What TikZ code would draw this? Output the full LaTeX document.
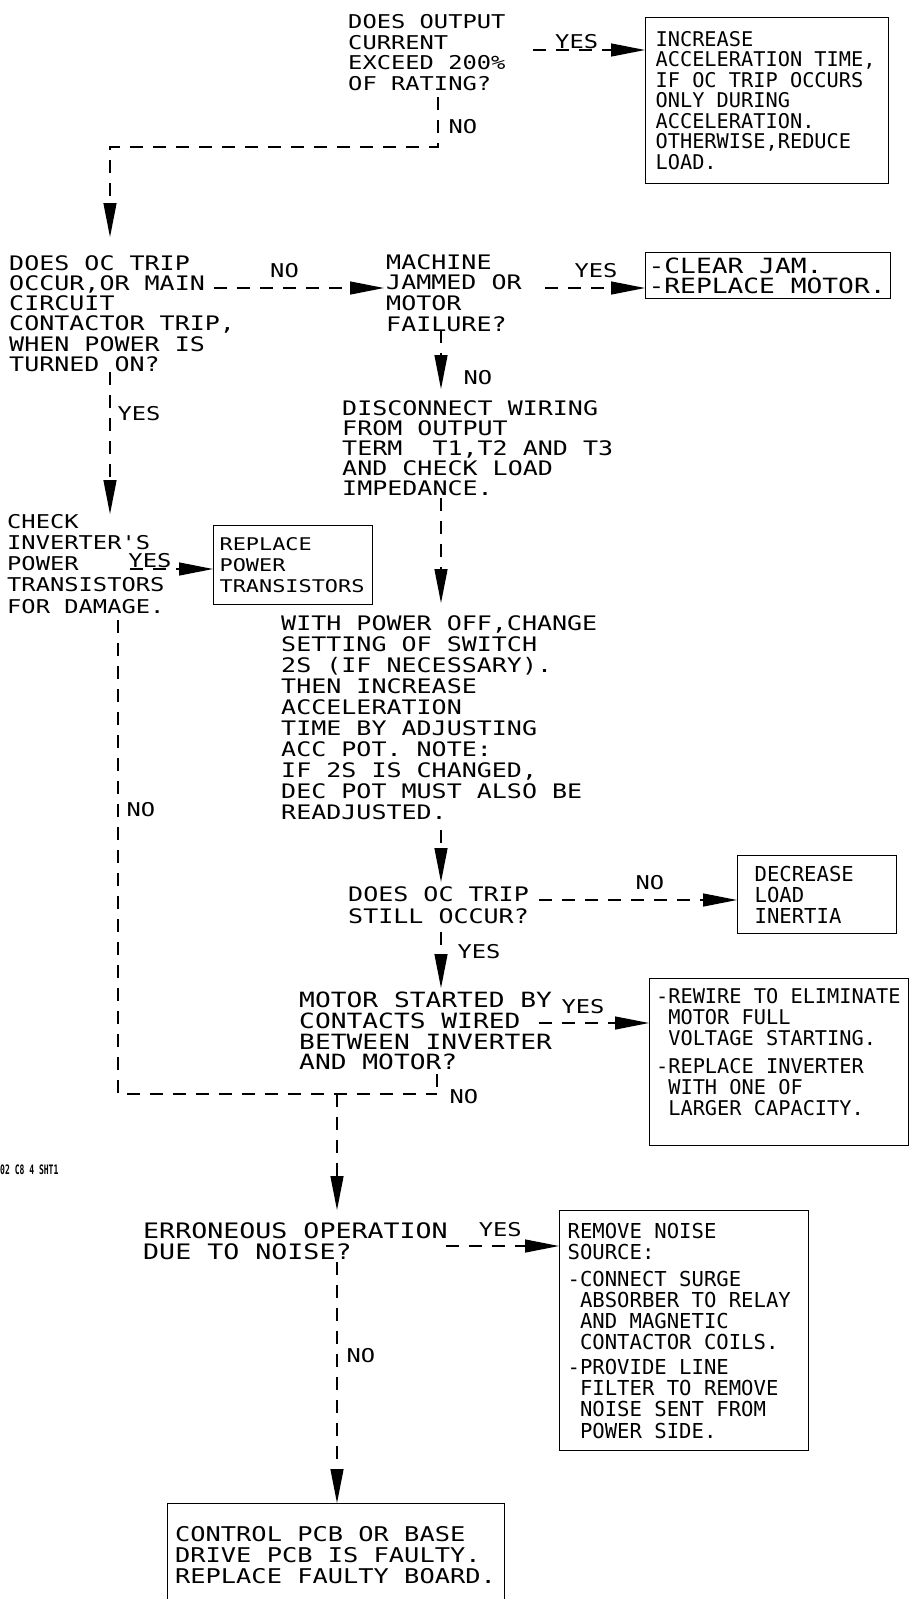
\documentclass[tikz,border=0pt]{standalone}
\usepackage{fontspec}
\usepackage{tikz}
\usetikzlibrary{arrows.meta, positioning, calc}
\newfontfamily\wfont[FakeStretch=1.25]{DejaVu Sans Mono}
\newfontfamily\nfont{DejaVu Sans Mono}
\newfontfamily\tfont[FakeStretch=0.62]{DejaVu Sans Mono}

\begin{document}
\begin{tikzpicture}[
  x=1pt, y=-1pt,
  ques/.style={font=\wfont\fontsize{20}{20.7}\selectfont, align=left,
               inner sep=0pt, anchor=north west},
  actbox/.style={draw, line width=1.2pt, align=left, inner sep=0pt,
                 anchor=north west, font=\nfont\fontsize{20.6}{21}\selectfont,
                 execute at begin node={\spaceskip=\fontdimen2\font\relax}},
  lab/.style={font=\wfont\fontsize{19}{19}\selectfont, inner sep=0pt},
  flow/.style={line width=1.3pt, dash pattern=on 13pt off 10pt,
               -{Triangle[length=34pt, width=13pt]}},
  link/.style={line width=1.3pt, dash pattern=on 13pt off 10pt}
]
\useasboundingbox (0,0) rectangle (909,1599);
\fill[white] (0,0) rectangle (909,1599);
\clip (0,0) rectangle (909,1599);

% questions and remedies
\node[ques, font=\wfont\fontsize{19}{20.7}\selectfont] (q1) at (348,14)
  {DOES OUTPUT\\CURRENT\\EXCEED 200\%\\OF RATING?};
\node[actbox, minimum width=243pt, minimum height=166pt, text width=223pt,
      font=\nfont\fontsize{20.3}{20.5}\selectfont] (b1) at (645,17)
  {INCREASE\\ACCELERATION TIME,\\IF OC TRIP OCCURS\\ONLY DURING\\ACCELERATION.\\OTHERWISE,REDUCE\\LOAD.};
\node[ques, font=\wfont\fontsize{20}{20.3}\selectfont] (q2) at (9,255)
  {DOES OC TRIP\\OCCUR,OR MAIN\\CIRCUIT\\CONTACTOR TRIP,\\WHEN POWER IS\\TURNED ON?};
\node[ques] (q3) at (386,254) {MACHINE\\JAMMED OR\\MOTOR\\FAILURE?};
\node[actbox, minimum width=245pt, minimum height=46pt, text width=239pt,
      font=\wfont\fontsize{21}{20}\selectfont] (b3) at (645,252)
  {-CLEAR JAM.\\-REPLACE MOTOR.};
\node[ques, font=\wfont\fontsize{20}{20}\selectfont] (dc) at (342,400)
  {DISCONNECT WIRING\\FROM OUTPUT\\TERM\ \ T1,T2 AND T3\\AND CHECK LOAD\\IMPEDANCE.};
\node[ques, font=\wfont\fontsize{19}{21.2}\selectfont] (q4) at (7,514)
  {CHECK\\INVERTER'S\\POWER\\TRANSISTORS\\FOR DAMAGE.};
\node[actbox, minimum width=159pt, minimum height=79pt, text width=147pt,
      font=\wfont\fontsize{17.5}{21}\selectfont] (b4) at (213,525)
  {REPLACE\\POWER\\TRANSISTORS};
\node[ques, font=\wfont\fontsize{20}{21.1}\selectfont] (wp) at (281,615)
  {WITH POWER OFF,CHANGE\\SETTING OF SWITCH\\2S (IF NECESSARY).\\THEN INCREASE\\ACCELERATION\\TIME BY ADJUSTING\\ACC POT. NOTE:\\IF 2S IS CHANGED,\\DEC POT MUST ALSO BE\\READJUSTED.};
\node[ques, font=\wfont\fontsize{20}{22}\selectfont] (q5) at (348,886)
  {DOES OC TRIP\\STILL OCCUR?};
\node[actbox, minimum width=159pt, minimum height=78pt, text width=125pt] (b5) at (737,855)
  {DECREASE\\LOAD\\INERTIA};
\node[ques, font=\wfont\fontsize{21}{20.7}\selectfont] (q6) at (299,992)
  {MOTOR STARTED BY\\CONTACTS WIRED\\BETWEEN INVERTER\\AND MOTOR?};
\node[actbox, minimum width=259pt, minimum height=167pt, text width=246pt,
      font=\nfont\fontsize{20.3}{21}\selectfont] (b6) at (649,978)
  {-REWIRE TO ELIMINATE\\\phantom{-}MOTOR FULL\\\phantom{-}VOLTAGE STARTING.\\[7pt]-REPLACE INVERTER\\\phantom{-}WITH ONE OF\\\phantom{-}LARGER CAPACITY.\\\mbox{}};
\node[ques, font=\wfont\fontsize{21.3}{21}\selectfont] (q7) at (143,1222)
  {ERRONEOUS OPERATION\\DUE TO NOISE?};
\node[actbox, minimum width=249pt, minimum height=240pt, text width=233pt,
      font=\nfont\fontsize{20.6}{21.1}\selectfont] (b7) at (559,1210)
  {REMOVE NOISE\\SOURCE:\\[6pt]-CONNECT SURGE\\\phantom{-}ABSORBER TO RELAY\\\phantom{-}AND MAGNETIC\\\phantom{-}CONTACTOR COILS.\\[4pt]-PROVIDE LINE\\\phantom{-}FILTER TO REMOVE\\\phantom{-}NOISE SENT FROM\\\phantom{-}POWER SIDE.};
\node[actbox, minimum width=337pt, minimum height=102pt, text width=322pt,
      font=\wfont\fontsize{20.3}{21}\selectfont] (b8) at (167,1503)
  {CONTROL PCB OR BASE\\DRIVE PCB IS FAULTY.\\REPLACE FAULTY BOARD.};
\node[font=\tfont\bfseries\fontsize{13}{13}\selectfont, inner sep=0pt, anchor=west] (sheet) at (0,1170)
  {02 C8 4 SHT1};

% connector start points and bends
\coordinate (c1) at (533,50);
\coordinate (c2) at (438,97);
\coordinate (k1) at (110,147);
\coordinate (c3) at (214,288);
\coordinate (c4) at (545,288);
\coordinate (c5) at (441,330);
\coordinate (c6) at (110,372);
\coordinate (c7) at (130,569);
\coordinate (c8) at (441,498);
\coordinate (c9) at (118,620);
\coordinate (m1) at (437,1094);
\coordinate (c10) at (441,830);
\coordinate (c11) at (539,900);
\coordinate (c12) at (441,932);
\coordinate (c13) at (539,1023);
\coordinate (c14) at (437,1074);
\coordinate (m2) at (337,1094);
\coordinate (c16) at (446,1246);
\coordinate (c17) at (337,1262);

\draw[flow] (c1) -- (c1 -| b1.west) node[lab, above=1pt, pos=0.39] {YES};
\draw[flow, shorten >=18pt] (c2) -- node[lab, right=10pt, pos=0.6] {NO} (c2 |- k1) -- (k1) -- (k1 |- q2.north);
\draw[flow, shorten >=2pt] (c3) -- (c3 -| q3.west) node[lab, above=10pt, pos=0.41] {NO};
\draw[flow] (c4) -- (c4 -| b3.west) node[lab, above=10pt, pos=0.51] {YES};
\draw[flow, shorten >=11pt] (c5) -- (c5 |- dc.north) node[lab, right=22pt, pos=0.68] {NO};
\draw[flow] (c6) -- (c6 |- q4.north) node[lab, right=7pt, pos=0.29] {YES};
\draw[flow] (c7) -- (c7 -| b4.west) node[lab, above=1pt, pos=0.24] {YES};
\draw[flow, shorten >=12pt] (c8) -- (c8 |- wp.north);
\draw[link] (c9) -- node[lab, right=8pt, pos=0.4] {NO} (c9 |- m1) -- (m1);
\draw[flow, shorten >=4pt] (c10) -- (c10 |- q5.north);
\draw[flow] (c11) -- (c11 -| b5.west) node[lab, above=10pt, pos=0.56] {NO};
\draw[flow, shorten >=4pt] (c12) -- (c12 |- q6.north) node[lab, right=16pt, pos=0.32] {YES};
\draw[flow] (c13) -- (c13 -| b6.west) node[lab, above=9pt, pos=0.4] {YES};
\draw[link] (c14) -- (m1) node[lab, right=12pt, yshift=-3pt] {NO};
\draw[flow, shorten >=12pt] (m2) -- (m2 |- q7.north);
\draw[flow] (c16) -- (c16 -| b7.west) node[lab, above=9pt, pos=0.48] {YES};
\draw[flow] (c17) -- (c17 |- b8.north) node[lab, right=9pt, pos=0.39] {NO};
\end{tikzpicture}
\end{document}
